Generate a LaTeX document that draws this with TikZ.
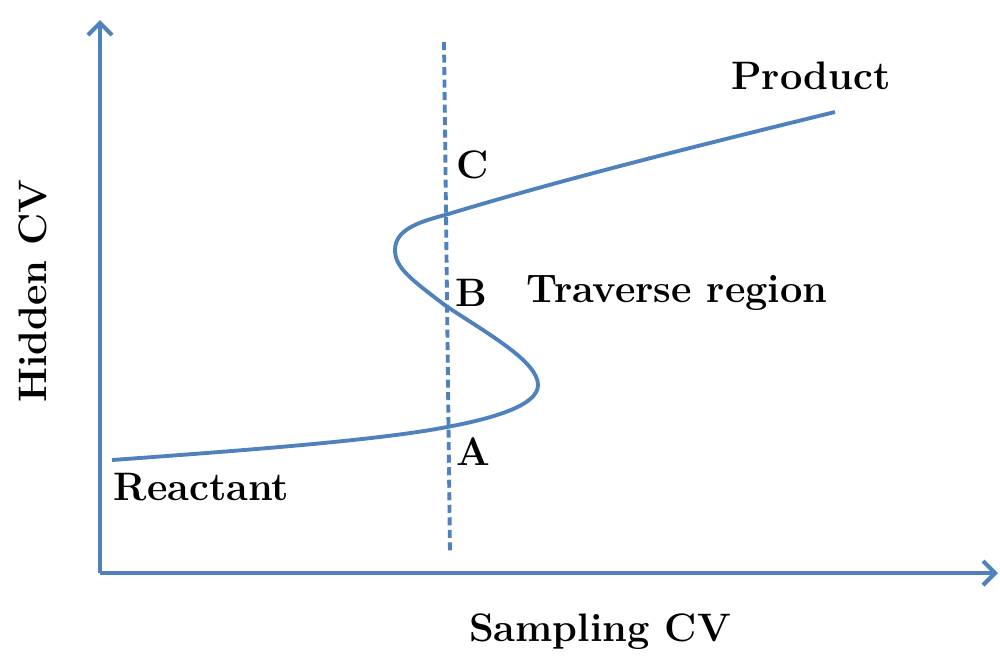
\documentclass[tikz,border=0pt]{standalone}
\usepackage{tikz}
\usetikzlibrary{arrows.meta}

\definecolor{cvblue}{RGB}{79,129,189}

\begin{document}
\begin{tikzpicture}[x=0.01cm,y=-0.01cm]
            \tikzstyle{every node}+=[inner sep=0pt, font=\fontsize{11.3}{13}\selectfont\bfseries]
            \tikzstyle{axis}=[cvblue, line width=1.3pt, -{Straight Barb[length=1.2mm,width=2.4mm,line width=1.2pt]}]
            \tikzstyle{cvline}=[cvblue, line width=1.1pt]
            \useasboundingbox (0,0) rectangle (1000,656);
            % axes
            \coordinate (origin) at (100,573);
            \coordinate (ytip) at (100,20);
            \coordinate (xtip) at (998,573);
            \draw [axis] (origin) -- (ytip);
            \draw [axis] (origin) -- (xtip);
            \draw (600,632) node (xlabel) {Sampling CV};
            \draw (33,291) node [rotate=90] (ylabel) {Hidden CV};
            % dividing surface
            \coordinate (dtop) at (444,42);
            \coordinate (dbot) at (450,554);
            \draw [cvline, dash pattern=on 0.8mm off 0.45mm] (dtop) -- (dbot);
            % reaction path
            \coordinate (start) at (112,460);
            \coordinate (ptA) at (447,427);
            \coordinate (turnR) at (538,385);
            \coordinate (ptB) at (446,306);
            \coordinate (turnL) at (395,250);
            \coordinate (ptC) at (445,215);
            \coordinate (stop) at (835,112);
            \draw [cvline] (start) .. controls (250,450) and (380,440) .. (ptA)
                .. controls (495,418) and (538,405) .. (turnR)
                .. controls (538,362) and (490,335) .. (ptB)
                .. controls (412,280) and (395,268) .. (turnL)
                .. controls (395,230) and (418,222) .. (ptC)
                .. controls (560,180) and (700,145) .. (stop);
            % labels
            \draw (473,165) node (lblC) {C};
            \draw (471,293) node (lblB) {B};
            \draw (473,452) node (lblA) {A};
            \draw (526,293) node [anchor=west] (traverse) {Traverse region};
            \draw (811,76) node (product) {Product};
            \draw (113,487) node [anchor=west] (reactant) {Reactant};
        \end{tikzpicture}
\end{document}
